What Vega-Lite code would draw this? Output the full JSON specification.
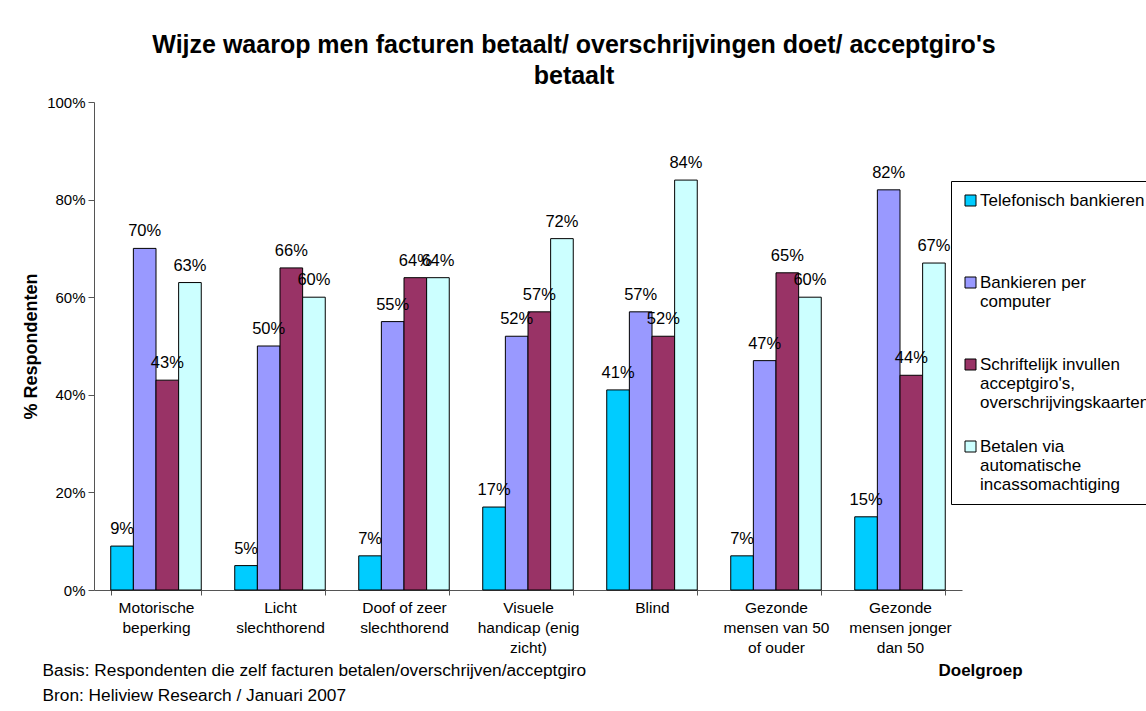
{
  "$schema": "https://vega.github.io/schema/vega-lite/v6.json",
  "width": 868,
  "height": 488,
  "autosize": "none",
  "padding": {"left": 94, "top": 102, "right": 184, "bottom": 121},
  "background": "white",
  "title": {
    "text": ["Wijze waarop men facturen betaalt/ overschrijvingen doet/ acceptgiro's", "betaalt"],
    "font": "Liberation Sans",
    "fontSize": 25,
    "fontWeight": "bold",
    "color": "black",
    "anchor": "middle",
    "frame": "group",
    "dx": 46,
    "lineHeight": 31,
    "offset": 6
  },
  "data": {
    "values": [
      {"groep": "Motorische beperking", "wijze": "Telefonisch bankieren", "waarde": 0.09},
      {"groep": "Motorische beperking", "wijze": "Bankieren per computer", "waarde": 0.70},
      {"groep": "Motorische beperking", "wijze": "Schriftelijk invullen acceptgiro's, overschrijvingskaarten", "waarde": 0.43},
      {"groep": "Motorische beperking", "wijze": "Betalen via automatische incassomachtiging", "waarde": 0.63},
      {"groep": "Licht slechthorend", "wijze": "Telefonisch bankieren", "waarde": 0.05},
      {"groep": "Licht slechthorend", "wijze": "Bankieren per computer", "waarde": 0.50},
      {"groep": "Licht slechthorend", "wijze": "Schriftelijk invullen acceptgiro's, overschrijvingskaarten", "waarde": 0.66},
      {"groep": "Licht slechthorend", "wijze": "Betalen via automatische incassomachtiging", "waarde": 0.60},
      {"groep": "Doof of zeer slechthorend", "wijze": "Telefonisch bankieren", "waarde": 0.07},
      {"groep": "Doof of zeer slechthorend", "wijze": "Bankieren per computer", "waarde": 0.55},
      {"groep": "Doof of zeer slechthorend", "wijze": "Schriftelijk invullen acceptgiro's, overschrijvingskaarten", "waarde": 0.64},
      {"groep": "Doof of zeer slechthorend", "wijze": "Betalen via automatische incassomachtiging", "waarde": 0.64},
      {"groep": "Visuele handicap (enig zicht)", "wijze": "Telefonisch bankieren", "waarde": 0.17},
      {"groep": "Visuele handicap (enig zicht)", "wijze": "Bankieren per computer", "waarde": 0.52},
      {"groep": "Visuele handicap (enig zicht)", "wijze": "Schriftelijk invullen acceptgiro's, overschrijvingskaarten", "waarde": 0.57},
      {"groep": "Visuele handicap (enig zicht)", "wijze": "Betalen via automatische incassomachtiging", "waarde": 0.72},
      {"groep": "Blind", "wijze": "Telefonisch bankieren", "waarde": 0.41},
      {"groep": "Blind", "wijze": "Bankieren per computer", "waarde": 0.57},
      {"groep": "Blind", "wijze": "Schriftelijk invullen acceptgiro's, overschrijvingskaarten", "waarde": 0.52},
      {"groep": "Blind", "wijze": "Betalen via automatische incassomachtiging", "waarde": 0.84},
      {"groep": "Gezonde mensen van 50 of ouder", "wijze": "Telefonisch bankieren", "waarde": 0.07},
      {"groep": "Gezonde mensen van 50 of ouder", "wijze": "Bankieren per computer", "waarde": 0.47},
      {"groep": "Gezonde mensen van 50 of ouder", "wijze": "Schriftelijk invullen acceptgiro's, overschrijvingskaarten", "waarde": 0.65},
      {"groep": "Gezonde mensen van 50 of ouder", "wijze": "Betalen via automatische incassomachtiging", "waarde": 0.60},
      {"groep": "Gezonde mensen jonger dan 50", "wijze": "Telefonisch bankieren", "waarde": 0.15},
      {"groep": "Gezonde mensen jonger dan 50", "wijze": "Bankieren per computer", "waarde": 0.82},
      {"groep": "Gezonde mensen jonger dan 50", "wijze": "Schriftelijk invullen acceptgiro's, overschrijvingskaarten", "waarde": 0.44},
      {"groep": "Gezonde mensen jonger dan 50", "wijze": "Betalen via automatische incassomachtiging", "waarde": 0.67}
    ]
  },
  "encoding": {
    "x": {
      "field": "groep",
      "type": "nominal",
      "sort": null,
      "scale": {"paddingInner": 0.27, "paddingOuter": 0.135}
    },
    "xOffset": {
      "field": "wijze",
      "type": "nominal",
      "sort": ["Telefonisch bankieren", "Bankieren per computer", "Schriftelijk invullen acceptgiro's, overschrijvingskaarten", "Betalen via automatische incassomachtiging"]
    },
    "y": {
      "field": "waarde",
      "type": "quantitative",
      "scale": {"domain": [0, 1], "nice": false},
      "axis": {
        "title": "% Respondenten",
        "format": ".0%",
        "values": [0, 0.2, 0.4, 0.6, 0.8, 1],
        "grid": false,
        "labelFont": "Liberation Sans",
        "labelFontSize": 15,
        "labelColor": "black",
        "labelPadding": 3,
        "tickSize": 6,
        "tickColor": "#555555",
        "domainColor": "#555555",
        "titleFont": "Liberation Sans",
        "titleFontSize": 18,
        "titleFontWeight": "bold",
        "titleColor": "black",
        "titlePadding": 6
      }
    }
  },
  "layer": [
    {
      "mark": {"type": "bar", "stroke": "black", "strokeWidth": 1},
      "encoding": {
        "x": {
          "field": "groep",
          "type": "nominal",
          "sort": null,
          "axis": {
            "orient": "bottom",
            "title": ["Basis: Respondenten die zelf facturen betalen/overschrijven/acceptgiro", "Bron: Heliview Research / Januari 2007"],
            "titleFont": "Liberation Sans",
            "titleFontSize": 17.3,
            "titleFontWeight": "normal",
            "titleColor": "black",
            "titleAlign": "left",
            "titleAnchor": "start",
            "titleBaseline": "middle",
            "titleLineHeight": 25,
            "titleX": -52,
            "titleY": 80,
            "labelAngle": 0,
            "labelFont": "Liberation Sans",
            "labelFontSize": 15.5,
            "labelColor": "black",
            "labelLineHeight": 20,
            "labelPadding": 5,
            "labelBaseline": "top",
            "labelExpr": "({'Motorische beperking': ['Motorische', 'beperking'], 'Licht slechthorend': ['Licht', 'slechthorend'], 'Doof of zeer slechthorend': ['Doof of zeer', 'slechthorend'], 'Visuele handicap (enig zicht)': ['Visuele', 'handicap (enig', 'zicht)'], 'Blind': ['Blind'], 'Gezonde mensen van 50 of ouder': ['Gezonde', 'mensen van 50', 'of ouder'], 'Gezonde mensen jonger dan 50': ['Gezonde', 'mensen jonger', 'dan 50']})[datum.label]",
            "tickBand": "extent",
            "tickSize": 5,
            "tickColor": "#555555",
            "domainColor": "#555555"
          }
        },
        "color": {
          "field": "wijze",
          "type": "nominal",
          "sort": ["Telefonisch bankieren", "Bankieren per computer", "Schriftelijk invullen acceptgiro's, overschrijvingskaarten", "Betalen via automatische incassomachtiging"],
          "scale": {"range": ["#00CCFF", "#9999FF", "#993366", "#CCFFFF"]},
          "legend": {
            "title": null,
            "orient": "none",
            "legendX": 857,
            "legendY": 79,
            "gridAlign": "all",
            "symbolType": "square",
            "symbolSize": 121,
            "symbolStrokeColor": "black",
            "symbolStrokeWidth": 1,
            "symbolOpacity": 1,
            "labelFont": "Liberation Sans",
            "labelFontSize": 17,
            "labelColor": "black",
            "labelLimit": 400,
            "labelLineHeight": 20.5,
            "labelOffset": 1,
            "rowPadding": 26,
            "padding": 11,
            "strokeColor": "black",
            "fillColor": "white",
            "labelExpr": "({'Telefonisch bankieren': ['Telefonisch bankieren'], 'Bankieren per computer': ['Bankieren per', 'computer'], \"Schriftelijk invullen acceptgiro's, overschrijvingskaarten\": ['Schriftelijk invullen', \"acceptgiro's,\", 'overschrijvingskaarten'], 'Betalen via automatische incassomachtiging': ['Betalen via', 'automatische', 'incassomachtiging']})[datum.label]"
          }
        }
      }
    },
    {
      "mark": {"type": "text", "baseline": "alphabetic", "dy": -12, "font": "Liberation Sans", "fontSize": 16.5, "color": "black"},
      "encoding": {
        "x": {
          "field": "groep",
          "type": "nominal",
          "sort": null,
          "axis": {
            "orient": "bottom",
            "title": "Doelgroep",
            "titleFont": "Liberation Sans",
            "titleFontSize": 17,
            "titleFontWeight": "bold",
            "titleColor": "black",
            "titleAlign": "center",
            "titleBaseline": "middle",
            "titleX": 886,
            "titleY": 80,
            "labels": false,
            "ticks": false,
            "domain": false
          }
        },
        "text": {"field": "waarde", "type": "quantitative", "format": ".0%"}
      }
    }
  ],
  "resolve": {"axis": {"x": "independent"}},
  "config": {
    "view": {"stroke": null}
  }
}
